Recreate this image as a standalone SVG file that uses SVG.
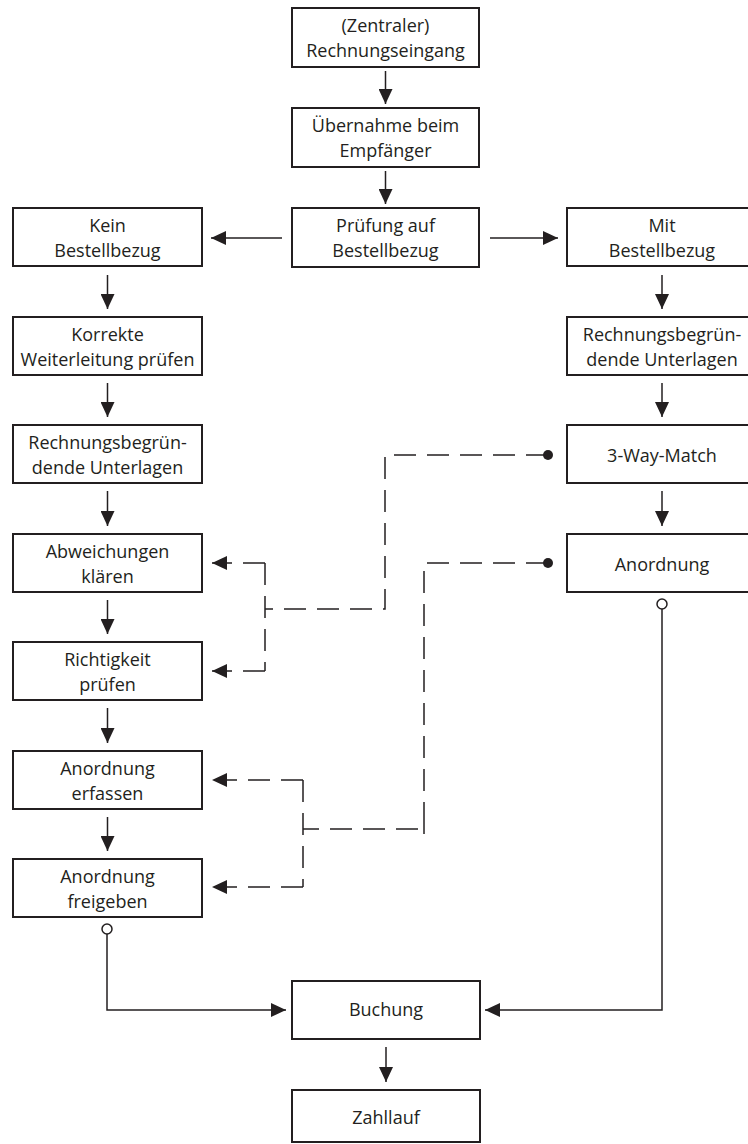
<svg xmlns="http://www.w3.org/2000/svg" width="748" height="1144" viewBox="0 0 748 1144">
<defs>
<style>
.box{fill:#fff;stroke:#231f20;stroke-width:2}
.t{font-family:"Open Sans","Noto Sans","Liberation Sans",sans-serif;font-size:18px;fill:#231f20;text-anchor:middle}
.ln{fill:none;stroke:#231f20;stroke-width:1.5}
.ds{fill:none;stroke:#231f20;stroke-width:1.5;stroke-dasharray:22 11}
</style>
<marker id="ah" viewBox="0 0 15 14" refX="15" refY="7" markerWidth="15" markerHeight="14" markerUnits="userSpaceOnUse" orient="auto">
<path d="M0,0 L15,7 L0,14 z" fill="#231f20"/>
</marker>
</defs>
<rect width="748" height="1144" fill="#fff"/>

<g id="n1"><rect class="box" x="292" y="8" width="187" height="59"/><text class="t" x="385.5" y="32">(Zentraler)</text><text class="t" x="385.5" y="57">Rechnungseingang</text></g>
<g id="n2"><rect class="box" x="292" y="108" width="187" height="59"/><text class="t" x="385.5" y="132">Übernahme beim</text><text class="t" x="385.5" y="157">Empfänger</text></g>
<g id="n3"><rect class="box" x="292" y="208" width="187" height="59"/><text class="t" x="385.5" y="232">Prüfung auf</text><text class="t" x="385.5" y="257">Bestellbezug</text></g>

<g id="l1"><rect class="box" x="13" y="208" width="189" height="58"/><text class="t" x="107.5" y="232">Kein</text><text class="t" x="107.5" y="257">Bestellbezug</text></g>
<g id="l2"><rect class="box" x="13" y="317" width="189" height="58"/><text class="t" x="107.5" y="341">Korrekte</text><text class="t" x="107.5" y="366">Weiterleitung prüfen</text></g>
<g id="l3"><rect class="box" x="13" y="425" width="189" height="58"/><text class="t" x="107.5" y="449">Rechnungsbegrün-</text><text class="t" x="107.5" y="474">dende Unterlagen</text></g>
<g id="l4"><rect class="box" x="13" y="534" width="189" height="58"/><text class="t" x="107.5" y="558">Abweichungen</text><text class="t" x="107.5" y="583">klären</text></g>
<g id="l5"><rect class="box" x="13" y="642" width="189" height="58"/><text class="t" x="107.5" y="666">Richtigkeit</text><text class="t" x="107.5" y="691">prüfen</text></g>
<g id="l6"><rect class="box" x="13" y="751" width="189" height="58"/><text class="t" x="107.5" y="775">Anordnung</text><text class="t" x="107.5" y="800">erfassen</text></g>
<g id="l7"><rect class="box" x="13" y="859" width="189" height="58"/><text class="t" x="107.5" y="883">Anordnung</text><text class="t" x="107.5" y="908">freigeben</text></g>

<g id="r1"><rect class="box" x="567" y="208" width="200" height="58"/><text class="t" x="662" y="232">Mit</text><text class="t" x="662" y="257">Bestellbezug</text></g>
<g id="r2"><rect class="box" x="567" y="317" width="200" height="58"/><text class="t" x="662" y="341">Rechnungsbegrün-</text><text class="t" x="662" y="366">dende Unterlagen</text></g>
<g id="r3"><rect class="box" x="567" y="425" width="200" height="58"/><text class="t" x="662" y="462">3-Way-Match</text></g>
<g id="r4"><rect class="box" x="567" y="534" width="200" height="58"/><text class="t" x="662" y="571">Anordnung</text></g>

<g id="b1"><rect class="box" x="292" y="981" width="188" height="58"/><text class="t" x="386" y="1016">Buchung</text></g>
<g id="b2"><rect class="box" x="292" y="1090" width="188" height="52"/><text class="t" x="386" y="1124">Zahllauf</text></g>

<g id="connectors">
<path class="ln" marker-end="url(#ah)" d="M385.5,71 V104"/>
<path class="ln" marker-end="url(#ah)" d="M385.5,171 V204"/>
<path class="ln" marker-end="url(#ah)" d="M282,238 H211"/>
<path class="ln" marker-end="url(#ah)" d="M490,238 H558"/>
<path class="ln" marker-end="url(#ah)" d="M107.5,275 V309"/>
<path class="ln" marker-end="url(#ah)" d="M107.5,383 V417"/>
<path class="ln" marker-end="url(#ah)" d="M107.5,491 V526"/>
<path class="ln" marker-end="url(#ah)" d="M107.5,600 V634"/>
<path class="ln" marker-end="url(#ah)" d="M107.5,708 V743"/>
<path class="ln" marker-end="url(#ah)" d="M107.5,817 V851"/>
<path class="ln" marker-end="url(#ah)" d="M662,275 V309"/>
<path class="ln" marker-end="url(#ah)" d="M662,383 V417"/>
<path class="ln" marker-end="url(#ah)" d="M662,491 V526"/>
<path class="ln" marker-end="url(#ah)" d="M386,1047 V1082"/>

<path class="ln" marker-end="url(#ah)" d="M107,934 V1010 H286"/>
<path class="ln" marker-end="url(#ah)" d="M662,609 V1010 H485"/>
<circle cx="107" cy="929" r="5" fill="#fff" stroke="#231f20" stroke-width="1.5"/>
<circle cx="662" cy="604" r="5" fill="#fff" stroke="#231f20" stroke-width="1.5"/>

<path class="ds" d="M548,455 H385 V609 H265"/>
<path class="ds" d="M265,563 V671"/>
<path class="ds" marker-end="url(#ah)" d="M265,563 H212"/>
<path class="ds" marker-end="url(#ah)" d="M265,671 H212"/>
<circle cx="548" cy="455" r="5" fill="#231f20"/>

<path class="ds" d="M548,563 H424 V829 H303"/>
<path class="ln" d="M424,824 V834"/>
<path class="ds" d="M303,780 V887"/>
<path class="ds" marker-end="url(#ah)" d="M303,780 H212"/>
<path class="ds" marker-end="url(#ah)" d="M303,887 H212"/>
<circle cx="548" cy="563" r="5" fill="#231f20"/>
</g>
</svg>
